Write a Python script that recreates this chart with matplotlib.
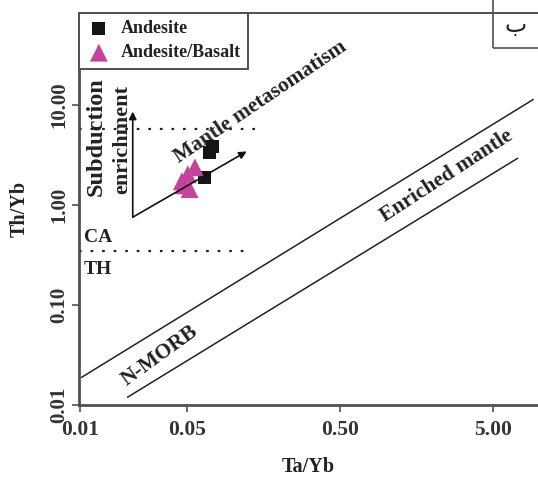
import matplotlib
matplotlib.use("Agg")
import matplotlib.pyplot as plt
from matplotlib.patches import Rectangle
from matplotlib.font_manager import FontProperties

# --- data ---
andesite_ta_yb = [0.0739, 0.0707, 0.0655]
andesite_th_yb = [3.81, 3.32, 1.87]
basalt_ta_yb = [0.0565, 0.0507, 0.0464, 0.0522, 0.0478]
basalt_th_yb = [2.36, 2.01, 1.71, 1.43, 1.56]

# mantle array boundaries (Ta/Yb, Th/Yb end points)
upper_x, upper_y = [0.0103, 9.1], [0.0189, 11.2]
lower_x, lower_y = [0.0206, 7.2], [0.0120, 2.9]

# dotted divides
sz_x_end, sz_y = 0.155, 5.75
ca_th_x_end, ca_th_y = 0.129, 0.345

# vectors
vec_origin = (0.0222, 0.75)
vec_subduction = (0.0222, 8.5)
vec_mantle = (0.123, 3.4)

xticks = [0.01, 0.05, 0.5, 5]
xticklabels = ["0.01", "0.05", "0.50", "5.00"]
yticks = [0.01, 0.1, 1, 10]
yticklabels = ["0.01", "0.10", "1.00", "10.00"]

SERIF = "Liberation Serif"
MAG = "#c2449c"
SPINE = "#505050"

fig = plt.figure(figsize=(5.38, 4.8), dpi=100)
ax = fig.add_axes([79/538, 75/480, 459/538, 392/480])
ax.set_xscale("log"); ax.set_yscale("log")
ax.set_xlim(0.0099, 9.8); ax.set_ylim(0.0105, 82)

# lines
ax.plot(upper_x, upper_y, color="#222", lw=1.1)
ax.plot(lower_x, lower_y, color="#222", lw=1.1)
ax.plot([0.0099, sz_x_end], [sz_y, sz_y], color="#222", lw=1.6, ls=(0, (1.2, 4)))
ax.plot([0.0099, ca_th_x_end], [ca_th_y, ca_th_y], color="#222", lw=1.6, ls=(0, (1.2, 4)))

# points
ax.scatter(andesite_ta_yb, andesite_th_yb, marker="s", s=85, color="#151515",
           edgecolors="none", zorder=3, label="Andesite")
ax.scatter(basalt_ta_yb, basalt_th_yb, marker="^", s=165, color=MAG,
           edgecolors="none", zorder=4, label="Andesite/Basalt")

# arrows (on top of points)
for tip in (vec_subduction, vec_mantle):
    ax.annotate("", xy=tip, xytext=vec_origin, zorder=5,
                arrowprops=dict(arrowstyle="-|>", color="#111", lw=1.2,
                                mutation_scale=11, shrinkA=0, shrinkB=0))

bold = dict(family=SERIF, fontweight="bold", color="#222")
ax.text(0.152, 10.7, "Mantle metasomatism", rotation=34, fontsize=15.5,
        ha="center", va="center", zorder=6, **bold)
ax.text(2.5, 1.92, "Enriched mantle", rotation=33, fontsize=15.5,
        ha="center", va="center", **bold)
ax.text(0.0334, 0.0313, "N-MORB", rotation=36, fontsize=15.5,
        ha="center", va="center", **bold)
ax.text(0.0129, 4.79, "Subduction", rotation=90, fontsize=17.5,
        ha="center", va="center", **bold)
ax.text(0.0191, 4.47, "enrichment", rotation=90, fontsize=16,
        ha="center", va="center", **bold)
ax.text(0.0106, 0.475, "CA", fontsize=14, ha="left", va="center", **bold)
ax.text(0.0106, 0.224, "TH", fontsize=14, ha="left", va="center", **bold)

# corner box with panel letter
ax.add_patch(Rectangle((0.902, 0.911), 0.2, 0.2, transform=ax.transAxes,
                       fill=False, edgecolor=SPINE, lw=1.2, clip_on=False))
ax.text(0.951, 0.951, "ب", transform=ax.transAxes, fontsize=17,
        ha="center", va="baseline", family="DejaVu Sans", color="#222")

# axes styling
for s in ("left", "bottom", "top"):
    ax.spines[s].set_color(SPINE)
    ax.spines[s].set_linewidth(2)
ax.spines["top"].set_linewidth(1.4)
ax.spines["right"].set_visible(False)
ax.minorticks_off()
ax.set_xticks(xticks)
ax.set_xticklabels(xticklabels)
ax.set_yticks(yticks)
ax.set_yticklabels(yticklabels, rotation=90, va="center")
ax.tick_params(axis="x", length=5, width=1.2, color=SPINE, pad=6)
ax.tick_params(axis="y", length=5, width=1.2, color=SPINE, pad=2)
for lab in ax.get_xticklabels():
    lab.set_fontproperties(FontProperties(family=SERIF, weight="bold", size=15.5))
    lab.set_color("#333")
for lab in ax.get_yticklabels():
    lab.set_fontproperties(FontProperties(family=SERIF, weight="bold", size=15))
    lab.set_color("#333")
ax.set_xlabel("Ta/Yb", fontsize=14.5, labelpad=12, **bold)
ax.set_ylabel("Th/Yb", fontsize=14.5, labelpad=14, **bold)

leg = ax.legend(loc="upper left", bbox_to_anchor=(0, 1), borderaxespad=0,
                fancybox=False, edgecolor=SPINE, framealpha=1,
                prop=FontProperties(family=SERIF, weight="bold", size=13),
                handletextpad=0.5, borderpad=0.4, labelspacing=0.4,
                handlelength=1.4, scatterpoints=1)
leg.get_frame().set_linewidth(1.4)
for t in leg.get_texts():
    t.set_color("#222")

fig.savefig("out.png", dpi=100)
